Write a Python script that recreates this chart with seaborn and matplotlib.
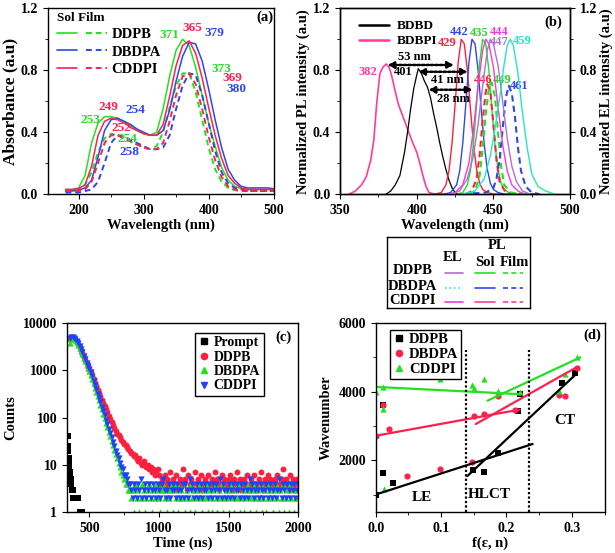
import matplotlib
matplotlib.use("Agg")
import pandas as pd
import seaborn as sns
from matplotlib import pyplot as plt
from matplotlib.lines import Line2D
from matplotlib.legend_handler import HandlerTuple
from matplotlib.ticker import MultipleLocator, NullLocator

# ---------------- (a) UV-vis absorption ----------------
abs_wl = list(range(180, 501, 10))
abs_ddpb_sol = [.03, .03, .04, .12, .33, .46, .50, .50, .49, .47,
                .44, .41, .39, .38, .40, .55, .76, .93, 1.0, .96,
                .82, .64, .46, .31, .17, .09, .05, .035, .03, .03,
                .03, .03, .03]
abs_dbdpa_sol = [.02, .02, .025, .04, .09, .24, .41, .48, .49, .47,
                 .45, .42, .40, .38, .38, .41, .54, .73, .89, .98,
                 .97, .86, .68, .48, .30, .16, .09, .05, .04, .04,
                 .04, .04, .035]
abs_cddpi_sol = [.03, .03, .035, .06, .18, .38, .47, .49, .48, .46,
                 .43, .41, .39, .38, .38, .45, .63, .83, .96, .99,
                 .91, .75, .56, .38, .23, .12, .07, .04, .03, .03,
                 .03, .03, .03]
abs_ddpb_film = [.02, .02, .03, .06, .14, .27, .36, .39, .38, .36,
                 .34, .32, .30, .29, .31, .40, .56, .70, .78, .78,
                 .66, .48, .30, .16, .08, .04, .025, .02, .02, .02,
                 .02, .02, .02]
abs_dbdpa_film = [.01, .01, .01, .02, .03, .08, .20, .33, .38, .37,
                  .35, .33, .31, .29, .29, .30, .38, .55, .70, .78,
                  .77, .64, .46, .28, .14, .07, .04, .03, .02, .02,
                  .02, .02, .02]
abs_cddpi_film = [.02, .02, .02, .03, .08, .20, .33, .38, .38, .36,
                  .34, .32, .30, .29, .29, .33, .47, .64, .76, .78,
                  .71, .55, .37, .22, .11, .05, .03, .02, .02, .02,
                  .02, .02, .02]
abs_peak_text = ["371", "365", "379", "373", "369", "380",
                 "253", "249", "254", "252", "254", "258"]
abs_peak_x = [340, 375, 409, 420, 437, 443, 218, 246, 287, 266, 275, 278]
abs_peak_y = [1.03, 1.07, 1.04, 0.81, 0.75, 0.68, 0.48, 0.56, 0.54, 0.43, 0.355, 0.27]
abs_peak_of = ["DDPB", "CDDPI", "DBDPA", "DDPB", "CDDPI", "DBDPA",
               "DDPB", "CDDPI", "DBDPA", "CDDPI", "DDPB", "DBDPA"]

# ---------------- (b) PL / EL spectra ----------------
bdbd_wl = [380, 383, 386, 389, 392, 394, 396, 398, 400, 401, 403, 405, 407,
           409, 411, 413, 415, 417, 419, 421, 423, 425, 427]
bdbd_pl = [0.0, 0.02, 0.06, 0.12, 0.27, 0.40, 0.55, 0.68, 0.77, 0.81, 0.78, 0.73, 0.69,
           0.62, 0.52, 0.43, 0.33, 0.24, 0.16, 0.09, 0.04, 0.01, 0.0]
bdbpi_wl = [356, 360, 364, 367, 370, 372, 374, 376, 378, 380, 382, 384, 386,
            388, 391, 394, 397, 400, 402, 404, 406, 408, 412, 416, 420]
bdbpi_pl = [0.0, 0.02, 0.06, 0.11, 0.22, 0.35, 0.60, 0.78, 0.82, 0.84, 0.82, 0.75, 0.66,
            0.58, 0.50, 0.42, 0.34, 0.27, 0.20, 0.12, 0.05, 0.01, 0.0, 0.0, 0.0]

cddpi_sol_wl = [412, 416, 419, 421, 423, 425, 427, 429, 431, 433, 435, 437, 439, 441, 443, 446, 450, 458]
cddpi_sol_pl = [0, .01, .06, .15, .33, .58, .85, 1.0, .97, .80, .55, .32, .16, .07, .03, .01, 0, 0]
dbdpa_sol_wl = [418, 422, 426, 428, 430, 432, 434, 436, 438, 440, 442, 444, 446, 448, 450, 453, 457, 465]
dbdpa_sol_pl = [0, .01, .06, .15, .33, .58, .85, 1.0, .97, .80, .55, .32, .16, .07, .03, .01, 0, 0]
ddpb_sol_wl = [426, 430, 433, 435, 437, 439, 441, 443, 445, 447, 449, 451, 453, 455, 457, 460, 464, 472]
ddpb_sol_pl = [0, .01, .06, .15, .33, .58, .85, 1.0, .97, .80, .55, .32, .16, .07, .03, .01, 0, 0]

cddpi_film_wl = [432, 436, 439, 441, 443, 445, 446, 448, 450, 452, 454, 458, 470, 480]
cddpi_film_pl = [0, .02, .10, .25, .48, .66, .71, .66, .45, .22, .08, .01, 0, 0]
ddpb_film_wl = [434, 438, 441, 443, 445, 447, 449, 451, 453, 455, 457, 461, 472]
ddpb_film_pl = [0, .02, .12, .30, .52, .68, .72, .63, .40, .18, .06, .01, 0]
dbdpa_film_wl = [430, 445, 450, 452, 454, 456, 458, 460, 462, 464, 466, 468, 471, 475, 480]
dbdpa_film_pl = [0, .01, .04, .10, .22, .42, .62, .70, .65, .50, .30, .15, .05, .01, 0]

cddpi_el_wl = [420, 425, 430, 434, 437, 440, 443, 445, 447, 450, 453, 456, 459, 462, 466, 470]
cddpi_el = [0, .01, .06, .20, .42, .70, .93, 1.0, .97, .82, .56, .32, .15, .06, .02, 0]
ddpb_el_wl = [422, 428, 433, 437, 440, 443, 446, 448, 450, 453, 456, 459, 462, 465, 469, 474]
ddpb_el = [0, .02, .10, .25, .45, .70, .93, 1.0, .97, .83, .60, .36, .18, .08, .02, 0]
dbdpa_el_wl = [430, 438, 444, 448, 451, 454, 457, 459, 461, 463, 466, 469, 472, 475, 479, 484, 490]
dbdpa_el = [0, .02, .10, .25, .42, .62, .84, .96, 1.0, .96, .78, .52, .30, .13, .05, .02, 0]

pl_peak_text = ["382", "401", "429", "442", "435", "444", "447", "459", "446", "449", "461"]
pl_peak_x = [368, 391, 420, 428, 441, 454, 454, 469, 443, 456, 467]
pl_peak_y = [0.79, 0.79, 0.976, 1.05, 1.04, 1.05, 0.98, 0.99, 0.74, 0.74, 0.70]
pl_peak_of = ["BDBPI", "BDBD", "CDDPI sol", "DBDPA sol", "DDPB sol", "CDDPI EL",
              "DDPB EL", "DBDPA EL", "CDDPI sol", "DDPB sol", "DBDPA sol"]

shift_text = ["53 nm", "41 nm", "28 nm"]
shift_start = [381.0, 401.0, 407.7]
shift_end = [424.2, 433.3, 436.4]
shift_y = [0.834, 0.79, 0.674]
shift_text_x = [398.3, 419.7, 423.6]
shift_text_y = [0.885, 0.74, 0.616]

# ---------------- (c) transient decay ----------------
decay_time = list(range(360, 2001, 10))
decay_ddpb = [4500, 4800, 4900, 4700, 4400, 4000, 3600, 3100, 2700, 2300, 1950, 1650, 1400, 1200, 1050,
              900, 770, 650, 550, 460, 390, 330, 280, 240, 205,
              175, 150, 128, 110, 95, 82, 70, 60, 52, 45,
              42, 38, 34, 31, 28, 26, 24, 22, 20, 18,
              17, 15, 16, 13, 12, 14, 11, 10, 12, 10,
              9, 10, 8, 9, 7, 8, 6, 7, 8, 6,
              4, 5, 3, 6, 4, 5, 4, 7, 3, 5,
              4, 6, 4, 3, 5, 4, 8, 4, 5, 3,
              6, 4, 5, 4, 3, 7, 4, 5, 4, 6,
              3, 4, 5, 4, 6, 4, 3, 5, 4, 7,
              4, 5, 3, 4, 6, 4, 5, 3, 4, 5,
              6, 4, 3, 5, 4, 7, 4, 5, 3, 4,
              5, 4, 6, 3, 4, 5, 4, 6, 4, 3,
              4, 5, 7, 4, 3, 5, 4, 6, 4, 5,
              3, 4, 5, 4, 6, 3, 4, 5, 8, 4,
              5, 4, 3, 6, 4, 5, 4, 3, 5, 4]
decay_dbdpa = [3800, 4500, 4800, 4700, 4300, 3900, 3500, 3000, 2600, 2200, 1850, 1550, 1300, 1100, 950,
               800, 650, 530, 430, 350, 285, 230, 185, 150, 120,
               97, 78, 63, 50, 40, 32, 26, 21, 17, 14,
               11, 9, 7, 6, 5, 4, 4, 3, 3,
               2, 3, 1, 4, 2, 3, 1, 2, 4, 3,
               1, 2, 3, 4, 2, 1, 3, 2, 4, 3,
               2, 1, 3, 4, 2, 3, 1, 2, 3, 4,
               1, 3, 2, 4, 1, 2, 3, 2, 4, 1,
               3, 2, 1, 4, 2, 3, 1, 2, 3, 4,
               2, 1, 3, 2, 4, 1, 3, 2, 1, 3,
               4, 2, 1, 3, 2, 4, 1, 2, 3, 2,
               1, 3, 4, 2, 1, 3, 2, 4, 1, 2,
               3, 1, 2, 4, 3, 1, 2, 3, 4, 2,
               1, 3, 2, 4, 1, 2, 3, 1, 2, 4,
               3, 2, 1, 3, 4, 2, 1, 3, 2, 4,
               1, 2, 3, 1, 4, 2, 3, 1, 2, 3,
               2]
decay_cddpi = [4700, 5000, 5100, 4900, 4500, 4100, 3700, 3200, 2800, 2400, 2000, 1700, 1450, 1250, 1080,
               900, 740, 600, 490, 400, 320, 260, 210, 170, 138,
               112, 90, 72, 58, 46, 38, 30, 25, 20, 16,
               14, 11, 9, 8, 6, 6, 5, 4, 4,
               3, 2, 4, 3, 2, 4, 3, 5, 2, 3,
               4, 2, 3, 4, 2, 3, 4, 3, 2, 4,
               3, 2, 4, 5, 3, 2, 3, 4, 2, 3,
               4, 3, 2, 4, 3, 2, 3, 4, 2, 4,
               3, 2, 5, 3, 4, 2, 3, 4, 2, 3,
               4, 2, 3, 4, 3, 2, 4, 3, 2, 4,
               3, 4, 2, 3, 5, 2, 4, 3, 2, 3,
               4, 2, 3, 4, 2, 3, 4, 3, 2, 4,
               3, 2, 4, 3, 2, 5, 3, 4, 2, 3,
               4, 3, 2, 4, 3, 2, 3, 4, 2, 3,
               4, 2, 3, 4, 2, 3, 5, 3, 2, 4,
               3, 2, 4, 3, 2, 4, 3, 4, 2, 3,
               4]
prompt_time = [345, 348, 350, 352, 355, 357, 360, 362, 365, 368, 370, 372, 375,
               378, 380, 385, 390, 395, 400, 410, 420, 430, 450]
prompt_counts = [40, 25, 20, 14, 11, 9, 7, 6, 5, 5, 4, 4, 3,
                 3, 2, 3, 2, 2, 2, 2, 2, 1, 1]
count_ticks = [1, 10, 100, 1000, 10000]
count_labels = ["1", "10", "100", "1000", "10000"]

# ---------------- (d) Lippert-Mataga ----------------
ddpb_f = [0.0, 0.011, 0.011, 0.027, 0.148, 0.166, 0.187, 0.218, 0.22, 0.285, 0.305]
ddpb_wn = [1000, 1640, 3610, 1350, 1730, 1660, 2220, 3430, 3940, 4250, 4550]
dbdpa_f = [0.0, 0.011, 0.021, 0.048, 0.098, 0.147, 0.150, 0.166, 0.187, 0.213, 0.28, 0.289, 0.308]
dbdpa_wn = [2700, 3610, 2930, 1545, 1760, 1950, 3300, 3350, 3865, 3480, 3910, 3880, 4700]
cddpi_f = [0.0, 0.011, 0.011, 0.013, 0.098, 0.147, 0.150, 0.166, 0.187, 0.22, 0.28, 0.289, 0.308]
cddpi_wn = [3980, 3510, 4135, 1160, 4370, 4200, 4105, 4370, 4010, 3980, 4010, 4520, 5020]
# linear fits, LE and CT regions (end points)
ddpb_le_f, ddpb_le_wn = [0.0, 0.24], [1010, 2480]
ddpb_ct_f, ddpb_ct_wn = [0.14, 0.308], [1545, 4540]
dbdpa_le_f, dbdpa_le_wn = [0.0, 0.22], [2720, 3480]
dbdpa_ct_f, dbdpa_ct_wn = [0.153, 0.308], [3060, 4720]
cddpi_le_f, cddpi_le_wn = [0.0, 0.22], [4140, 3930]
cddpi_ct_f, cddpi_ct_wn = [0.171, 0.313], [3740, 5000]
regime_f = [0.138, 0.235]
regime_top = 5200
regime_text = ["LE", "HLCT", "CT"]
regime_text_f = [0.07, 0.174, 0.289]
regime_text_wn = [930, 1000, 3160]

GREEN = "#22e022"
BLUE = "#3046e8"
RED = "#ff2050"
colors = {"DDPB": GREEN, "DBDPA": BLUE, "CDDPI": RED}
spec_colors = {"BDBD": "black", "BDBPI": "#ff3c9c", "CDDPI sol": "#ff2040",
               "DBDPA sol": BLUE, "DDPB sol": GREEN, "CDDPI EL": "#f03cd8",
               "DDPB EL": "#b070d0", "DBDPA EL": "#22e8c0"}

sns.set_style("ticks", {"axes.edgecolor": "black", "xtick.color": "black", "ytick.color": "black",
                        "text.color": "black", "axes.labelcolor": "black"})
plt.rcParams["font.family"] = ["Liberation Serif", "DejaVu Serif"]
plt.rcParams["font.weight"] = "bold"
plt.rcParams["axes.labelweight"] = "bold"
plt.rcParams["font.size"] = 10
plt.rcParams["xtick.labelsize"] = 10
plt.rcParams["ytick.labelsize"] = 10
plt.rcParams["axes.linewidth"] = 1.0

fig = plt.figure(figsize=(6.15, 5.53), dpi=100)
ax_a = fig.add_axes([0.078, 0.649, 0.367, 0.336])
ax_b = fig.add_axes([0.553, 0.649, 0.374, 0.336])
ax_t = fig.add_axes([0.629, 0.443, 0.2325, 0.128])
ax_c = fig.add_axes([0.109, 0.074, 0.376, 0.342])
ax_d = fig.add_axes([0.611, 0.074, 0.372, 0.342])

# ---- (a)
for name, sol, film in [("DDPB", abs_ddpb_sol, abs_ddpb_film),
                        ("DBDPA", abs_dbdpa_sol, abs_dbdpa_film),
                        ("CDDPI", abs_cddpi_sol, abs_cddpi_film)]:
    sns.lineplot(x=abs_wl, y=sol, color=colors[name], lw=1.1, ax=ax_a)
    sns.lineplot(x=abs_wl, y=film, color=colors[name], lw=1.4, linestyle=(0, (3, 2)), ax=ax_a)
for t, x, y, who in zip(abs_peak_text, abs_peak_x, abs_peak_y, abs_peak_of):
    ax_a.text(x, y, t, color=colors[who], fontsize=9.5, ha="center", va="center")
ax_a.set_xlim(153, 500)
ax_a.set_ylim(0, 1.2)
ax_a.set_xticks([200, 300, 400, 500])
ax_a.set_yticks([0.0, 0.4, 0.8, 1.2])
ax_a.yaxis.set_major_formatter("{x:.1f}")
ax_a.xaxis.set_minor_locator(MultipleLocator(50))
ax_a.yaxis.set_minor_locator(MultipleLocator(0.2))
ax_a.set_xlabel("Wavelength (nm)", fontsize=10.5, labelpad=1)
ax_a.set_ylabel("Absorbance (a.u)", fontsize=12.5, labelpad=2)
pairs = [(Line2D([], [], color=colors[n], lw=1.2), Line2D([], [], color=colors[n], lw=1.4, ls=(0, (3, 2))))
         for n in ["DDPB", "DBDPA", "CDDPI"]]
leg = ax_a.legend(pairs, ["DDPB", "DBDPA", "CDDPI"], handler_map={tuple: HandlerTuple(ndivide=None, pad=0.6)},
                  handlelength=3.4, title="Sol Film", loc="upper left", bbox_to_anchor=(-0.005, 1.035),
                  frameon=False, fontsize=10.5, labelspacing=0.28, handletextpad=0.35, borderpad=0.2,
                  alignment="left", title_fontproperties={"weight": "bold", "size": 9.5})
ax_a.text(0.96, 0.95, "(a)", transform=ax_a.transAxes, fontsize=10.5, ha="center", va="center")

# ---- (b)
ax_b2 = ax_b.twinx()
sns.lineplot(x=bdbpi_wl, y=bdbpi_pl, color=spec_colors["BDBPI"], lw=1.2, ax=ax_b)
sns.lineplot(x=bdbd_wl, y=bdbd_pl, color="black", lw=0.9, ax=ax_b)
for wl, pl, key in [(cddpi_sol_wl, cddpi_sol_pl, "CDDPI sol"), (dbdpa_sol_wl, dbdpa_sol_pl, "DBDPA sol"),
                    (ddpb_sol_wl, ddpb_sol_pl, "DDPB sol")]:
    sns.lineplot(x=wl, y=pl, color=spec_colors[key], lw=1.0, ax=ax_b)
for wl, el, key in [(cddpi_el_wl, cddpi_el, "CDDPI EL"), (ddpb_el_wl, ddpb_el, "DDPB EL"),
                    (dbdpa_el_wl, dbdpa_el, "DBDPA EL")]:
    sns.lineplot(x=wl, y=el, color=spec_colors[key], lw=1.0, ax=ax_b2)
for wl, pl, key in [(cddpi_film_wl, cddpi_film_pl, "CDDPI sol"), (ddpb_film_wl, ddpb_film_pl, "DDPB sol"),
                    (dbdpa_film_wl, dbdpa_film_pl, "DBDPA sol")]:
    sns.lineplot(x=wl, y=pl, color=spec_colors[key], lw=1.5, linestyle=(0, (3, 2)), ax=ax_b)
for t, x, y, key in zip(pl_peak_text, pl_peak_x, pl_peak_y, pl_peak_of):
    ax_b.text(x, y, t, color=spec_colors[key], fontsize=9, ha="center", va="center")
for t, x0, x1, y, tx, ty in zip(shift_text, shift_start, shift_end, shift_y, shift_text_x, shift_text_y):
    ax_b.annotate("", xy=(x1, y), xytext=(x0, y),
                  arrowprops=dict(arrowstyle="<|-|>,head_length=0.35,head_width=0.18",
                                  color="black", lw=1.8, linestyle=(0, (1, 0.8)), shrinkA=0, shrinkB=0))
    ax_b.text(tx, ty, t, fontsize=9, ha="center", va="center")
for a in (ax_b, ax_b2):
    a.set_xlim(350, 500)
    a.set_ylim(0, 1.2)
    a.set_yticks([0.0, 0.4, 0.8, 1.2])
    a.yaxis.set_major_formatter("{x:.1f}")
    a.yaxis.set_minor_locator(MultipleLocator(0.2))
ax_b.set_xticks([350, 400, 450, 500])
ax_b.xaxis.set_minor_locator(MultipleLocator(25))
ax_b.set_xlabel("Wavelength (nm)", fontsize=10.5, labelpad=1)
ax_b.set_ylabel("Normalized PL intensity (a.u)", fontsize=10.5, labelpad=2)
ax_b2.set_ylabel("Normalized EL intensity (a.u)", fontsize=10.5, labelpad=2)
ax_b.legend([Line2D([], [], color="black", lw=1.8), Line2D([], [], color=spec_colors["BDBPI"], lw=1.8)],
            ["BDBD", "BDBPI"], loc="upper left", bbox_to_anchor=(0.03, 1.0), frameon=False,
            fontsize=9.5, handlelength=2.3, labelspacing=0.2, handletextpad=0.6)
ax_b.text(0.925, 0.925, "(b)", transform=ax_b.transAxes, fontsize=10.5, ha="center", va="center")

# ---- legend table under (b)
ax_t.set_xlim(0, 1)
ax_t.set_ylim(0, 1)
ax_t.set_xticks([])
ax_t.set_yticks([])
ax_t.text(0.77, 0.88, "PL", fontsize=10.5, ha="center", va="center")
ax_t.text(0.46, 0.71, "EL", fontsize=10.5, ha="center", va="center")
ax_t.text(0.685, 0.64, "Sol", fontsize=10.5, ha="center", va="center")
ax_t.text(0.895, 0.64, "Film", fontsize=10.5, ha="center", va="center")
rows = [("DDPB", "DDPB EL", "-", "DDPB sol"), ("DBDPA", "DBDPA EL", ":", "DBDPA sol"),
        ("CDDPI", "CDDPI EL", "-", "BDBPI")]
for (name, el_key, el_ls, pl_key), ty in zip(rows, [0.5, 0.28, 0.08]):
    ax_t.text(0.18, ty + 0.03, name, fontsize=10.5, ha="center", va="center")
    ax_t.plot([0.405, 0.53], [ty, ty], color=spec_colors[el_key], lw=1.2, ls=el_ls)
    ax_t.plot([0.615, 0.755], [ty, ty], color=spec_colors[pl_key], lw=1.2)
    ax_t.plot([0.81, 0.95], [ty, ty], color=spec_colors[pl_key], lw=1.2, ls=(0, (3, 2)))

# ---- (c)
marker_kw = dict(linewidth=0, ax=ax_c, legend=False)
sns.scatterplot(x=prompt_time, y=prompt_counts, color="black", marker="s", s=14, **marker_kw)
sns.scatterplot(x=decay_time, y=decay_ddpb, color="#ff2040", marker="o", s=18, **marker_kw)
sns.scatterplot(x=decay_time, y=decay_dbdpa, color="#20e020", marker="^", s=20, **marker_kw)
sns.scatterplot(x=decay_time, y=decay_cddpi, color="#2040ff", marker="v", s=20, **marker_kw)
ax_c.set_yscale("log")
ax_c.set_ylim(1, 10000)
ax_c.set_xlim(340, 2000)
ax_c.set_yticks(count_ticks)
ax_c.set_yticklabels(count_labels)
ax_c.yaxis.set_minor_locator(NullLocator())
ax_c.set_xticks([500, 1000, 1500, 2000])
ax_c.xaxis.set_minor_locator(MultipleLocator(250))
ax_c.set_xlabel("Time (ns)", fontsize=10.5, labelpad=1)
ax_c.set_ylabel("Counts", fontsize=10.5, labelpad=4)
h_c = [Line2D([], [], ls="", marker="s", color="black", ms=4),
       Line2D([], [], ls="", marker="o", color="#ff2040", ms=4.5),
       Line2D([], [], ls="", marker="^", color="#20e020", ms=5),
       Line2D([], [], ls="", marker="v", color="#2040ff", ms=5)]
leg_c = ax_c.legend(h_c, ["Prompt", "DDPB", "DBDPA", "CDDPI"], loc="upper right", bbox_to_anchor=(0.88, 0.985),
                    fontsize=10, handlelength=0.8, handletextpad=0.3, borderpad=0.25, labelspacing=0.1,
                    fancybox=False, edgecolor="black", framealpha=1)
leg_c.get_frame().set_linewidth(1.0)
ax_c.text(0.935, 0.925, "(c)", transform=ax_c.transAxes, fontsize=10.5, ha="center", va="center")

# ---- (d)
series_d = [("DDPB", ddpb_f, ddpb_wn, "black", "s", ddpb_le_f, ddpb_le_wn, ddpb_ct_f, ddpb_ct_wn),
            ("DBDPA", dbdpa_f, dbdpa_wn, "#ff2050", "o", dbdpa_le_f, dbdpa_le_wn, dbdpa_ct_f, dbdpa_ct_wn),
            ("CDDPI", cddpi_f, cddpi_wn, "#22e022", "^", cddpi_le_f, cddpi_le_wn, cddpi_ct_f, cddpi_ct_wn)]
for name, f, wn, c, m, lf, lw_, cf, cw in series_d:
    sns.lineplot(x=lf, y=lw_, color=c, lw=1.6, ax=ax_d)
    sns.lineplot(x=cf, y=cw, color=c, lw=1.6, ax=ax_d)
    sns.scatterplot(x=f, y=wn, color=c, marker=m, s=20, linewidth=0, ax=ax_d, legend=False)
ax_d.vlines(regime_f, 500, regime_top, colors="black", linestyles=(0, (1, 1)), lw=1.6)
for t, x, y in zip(regime_text, regime_text_f, regime_text_wn):
    ax_d.text(x, y, t, fontsize=11, ha="center", va="center")
ax_d.set_xlim(0, 0.35)
ax_d.set_ylim(500, 6000)
ax_d.set_xticks([0.0, 0.1, 0.2, 0.3])
ax_d.xaxis.set_major_formatter("{x:.1f}")
ax_d.xaxis.set_minor_locator(MultipleLocator(0.05))
ax_d.set_yticks([2000, 4000, 6000])
ax_d.yaxis.set_minor_locator(MultipleLocator(1000))
ax_d.set_xlabel("f(ε, n)", fontsize=10.5, labelpad=1)
ax_d.set_ylabel("Wavenumber", fontsize=10.5, labelpad=4)
h_d = [Line2D([], [], ls="", marker="s", color="black", ms=4),
       Line2D([], [], ls="", marker="o", color="#ff2050", ms=4.5),
       Line2D([], [], ls="", marker="^", color="#22e022", ms=5)]
leg_d = ax_d.legend(h_d, ["DDPB", "DBDPA", "CDDPI"], loc="upper left", bbox_to_anchor=(0.03, 1.0),
                    fontsize=10.5, handlelength=0.8, handletextpad=0.3, borderpad=0.2, labelspacing=0.1,
                    fancybox=False, edgecolor="black", framealpha=1)
leg_d.get_frame().set_linewidth(1.0)
ax_d.text(0.948, 0.937, "(d)", transform=ax_d.transAxes, fontsize=10.5, ha="center", va="center")

fig.savefig("out.png", dpi=100)
